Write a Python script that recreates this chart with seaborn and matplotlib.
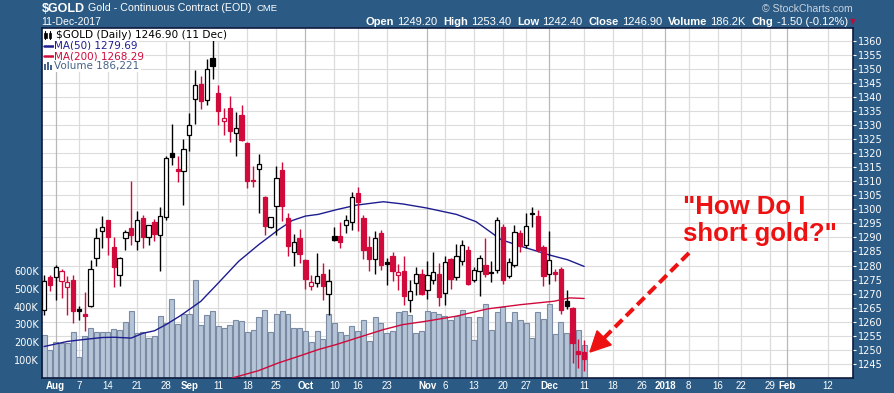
import numpy as np
import pandas as pd
import matplotlib
matplotlib.use("Agg")
import matplotlib.pyplot as plt
from matplotlib.lines import Line2D
from matplotlib.patches import Polygon, Rectangle
import seaborn as sns

# ---------------- data ----------------
first_session = "2017-07-28"
last_axis_session = "2018-02-16"
closed_days = ["2017-09-04", "2017-10-09", "2017-11-23",
               "2017-12-25", "2018-01-01", "2018-01-15"]

opens = [1264.3, 1275.8, 1275.8, 1274.6, 1272.3, 1274.7, 1264.4, 1262.6, 1265.5, 1282.7,
         1292.2, 1296.1, 1286.5, 1276.5, 1289.8, 1293.4, 1288.6, 1296.9, 1290.2, 1295.5,
         1290.8, 1297.2, 1320.0, 1314.2, 1313.5, 1326.6, 1339.4, 1344.6, 1338.8, 1353.9,
         1341.4, 1331.3, 1336.1, 1327.0, 1333.5, 1323.6, 1310.4, 1314.2, 1304.5, 1293.6,
         1301.1, 1313.9, 1296.9, 1284.7, 1289.8, 1282.1, 1272.6, 1273.8, 1277.0, 1270.0,
         1290.4, 1290.4, 1294.3, 1295.4, 1305.8, 1296.9, 1286.6, 1282.3, 1291.6, 1281.2,
         1283.3, 1276.8, 1278.0, 1267.6, 1273.8, 1277.1, 1271.2, 1274.8, 1277.0, 1270.2,
         1282.3, 1275.8, 1281.5, 1285.4, 1274.8, 1278.2, 1280.1, 1277.7, 1278.3, 1293.7,
         1276.2, 1280.1, 1291.6, 1287.4, 1298.7, 1297.5, 1286.6, 1277.1, 1277.4, 1278.8,
         1267.3, 1264.9, 1249.6, 1249.2]
highs = [1276.5, 1276.8, 1280.1, 1278.9, 1276.2, 1276.5, 1265.5, 1270.6, 1282.1, 1293.4,
         1297.5, 1296.3, 1290.0, 1282.9, 1292.5, 1310.0, 1299.5, 1297.9, 1294.5, 1296.6,
         1300.8, 1318.8, 1330.5, 1318.9, 1325.0, 1334.3, 1349.5, 1347.3, 1353.3, 1360.1,
         1344.1, 1336.1, 1340.2, 1334.6, 1337.0, 1323.9, 1315.3, 1319.7, 1304.9, 1297.4,
         1315.3, 1316.7, 1298.7, 1291.2, 1293.0, 1282.5, 1276.8, 1284.5, 1280.9, 1278.9,
         1293.6, 1295.4, 1298.1, 1306.1, 1307.8, 1297.9, 1290.4, 1292.4, 1292.8, 1282.7,
         1284.8, 1280.6, 1283.3, 1274.8, 1279.4, 1278.9, 1281.5, 1284.7, 1280.9, 1283.3,
         1282.7, 1287.7, 1289.2, 1286.8, 1279.5, 1283.9, 1289.8, 1281.5, 1297.2, 1294.8,
         1282.7, 1294.5, 1292.8, 1298.7, 1300.8, 1299.9, 1287.4, 1292.2, 1278.9, 1279.5,
         1271.2, 1265.2, 1254.0, 1253.4]
lows = [1262.5, 1271.1, 1267.9, 1268.5, 1262.5, 1259.6, 1260.8, 1256.6, 1265.4, 1279.7,
        1286.2, 1283.9, 1272.3, 1272.6, 1285.7, 1287.4, 1285.7, 1286.2, 1287.4, 1288.6,
        1278.0, 1296.3, 1315.9, 1309.7, 1301.7, 1320.9, 1330.4, 1335.8, 1337.0, 1346.5,
        1330.1, 1326.3, 1324.0, 1319.1, 1324.4, 1307.6, 1307.9, 1298.7, 1290.8, 1293.4,
        1291.0, 1296.0, 1283.5, 1280.0, 1280.9, 1271.7, 1271.4, 1272.3, 1267.9, 1262.3,
        1288.6, 1286.2, 1291.6, 1292.5, 1292.2, 1282.5, 1278.0, 1277.0, 1278.5, 1273.0,
        1274.6, 1271.4, 1265.9, 1263.4, 1269.7, 1269.7, 1268.2, 1273.6, 1265.5, 1265.9,
        1271.8, 1275.0, 1280.1, 1273.0, 1274.0, 1269.1, 1275.8, 1274.2, 1277.4, 1273.6,
        1275.6, 1279.4, 1284.7, 1286.2, 1293.7, 1284.7, 1272.6, 1273.5, 1274.4, 1262.8,
        1264.7, 1245.3, 1243.6, 1242.4]
closes = [1274.6, 1273.0, 1279.4, 1277.9, 1274.2, 1263.9, 1264.0, 1262.2, 1278.7, 1289.8,
          1293.6, 1290.0, 1279.4, 1282.7, 1291.8, 1291.0, 1296.1, 1290.2, 1294.3, 1291.4,
          1297.5, 1318.3, 1318.5, 1313.5, 1321.6, 1329.9, 1344.1, 1338.7, 1349.8, 1350.9,
          1335.1, 1332.5, 1327.8, 1328.9, 1324.8, 1310.2, 1309.9, 1316.1, 1294.2, 1297.2,
          1311.2, 1301.3, 1287.1, 1288.3, 1284.1, 1275.3, 1274.2, 1276.2, 1272.6, 1274.4,
          1289.2, 1288.3, 1296.1, 1304.3, 1302.5, 1285.7, 1282.5, 1289.8, 1280.1, 1280.6,
          1278.0, 1277.7, 1269.1, 1271.1, 1277.1, 1270.0, 1276.8, 1277.6, 1268.7, 1281.2,
          1275.3, 1283.3, 1287.2, 1273.6, 1278.3, 1282.7, 1277.1, 1277.3, 1296.1, 1274.8,
          1281.2, 1291.8, 1286.9, 1294.0, 1298.4, 1285.7, 1276.2, 1281.9, 1277.1, 1264.3,
          1265.5, 1252.5, 1248.4, 1246.9]
volumes_k = [241, 157, 202, 198, 194, 258, 116, 237, 278, 258,
             258, 258, 276, 269, 314, 374, 250, 258, 222, 235,
             346, 308, 441, 302, 358, 358, 547, 299, 351, 373,
             289, 280, 295, 323, 317, 258, 271, 340, 383, 258,
             358, 373, 360, 280, 280, 261, 202, 263, 218, 358,
             308, 258, 239, 289, 261, 323, 205, 340, 308, 252,
             261, 370, 373, 351, 252, 261, 373, 368, 358, 345,
             323, 345, 383, 340, 211, 340, 414, 267, 368, 396,
             312, 368, 323, 308, 224, 368, 330, 416, 248, 312,
             250, 300, 267, 186.221]

ma50_pos = [0, 4, 6, 10, 12, 15, 17, 19, 21, 23.5, 27, 30, 33.5, 37, 40.4, 42.7, 45, 47.2,
            50.4, 53.8, 58.4, 61.8, 65.8, 71, 74.4, 78.7, 82.2, 87.3, 90.1, 93]
ma50_val = [1251.2, 1253.0, 1253.5, 1254.4, 1254.5, 1254.2, 1255.9, 1256.8, 1259.0, 1262.2,
            1267.3, 1273.8, 1281.5, 1287.5, 1292.8, 1296.0, 1297.6, 1298.2, 1299.9, 1301.5,
            1302.7, 1301.9, 1300.5, 1298.2, 1295.6, 1289.2, 1286.8, 1283.6, 1282.1, 1279.69]
ma200_pos = [31.0, 32.4, 36.9, 40.4, 43.8, 47.2, 50.3, 53.8, 58.4, 61.8, 65.8, 71, 76.4,
             82.1, 87.8, 90.5, 93]
ma200_val = [1238.5, 1240.0, 1242.6, 1245.4, 1247.7, 1250.1, 1251.9, 1254.2, 1257.2, 1259.0,
             1260.2, 1262.0, 1264.6, 1266.1, 1267.3, 1268.5, 1268.29]

tick_dates = ["2017-08-01", "2017-08-07", "2017-08-14", "2017-08-21", "2017-08-28",
              "2017-09-01", "2017-09-11", "2017-09-18", "2017-09-25", "2017-10-02",
              "2017-10-10", "2017-10-16", "2017-10-23", "2017-11-01", "2017-11-06",
              "2017-11-13", "2017-11-20", "2017-11-27", "2017-12-01", "2017-12-11",
              "2017-12-18", "2017-12-26", "2018-01-02", "2018-01-08", "2018-01-16",
              "2018-01-22", "2018-01-29", "2018-02-01", "2018-02-12"]
tick_labels = ["Aug", "7", "14", "21", "28", "Sep", "11", "18", "25", "Oct", "10", "16", "23",
               "Nov", "6", "13", "20", "27", "Dec", "11", "18", "26", "2018", "8", "16", "22",
               "29", "Feb", "12"]
major_labels = ["Aug", "Sep", "Oct", "Nov", "Dec", "2018", "Feb"]
price_ticks = list(range(1245, 1361, 5))
volume_ticks_k = [100, 200, 300, 400, 500, 600]

header_quote = [("Open", "1249.20"), ("High", "1253.40"), ("Low", "1242.40"),
                ("Close", "1246.90"), ("Volume", "186.2K"), ("Chg", "-1.50 (-0.12%)")]

# ---------------- styles ----------------
BG = "#2b5b84"
RED = "#d10a3c"
NAVY = "#1d1d90"
VOLBLUE = "#46648c"
SANS = "Liberation Sans"

sns.set_style("white")
plt.rcParams["font.family"] = ["DejaVu Sans"]

W, H = 894, 393
fig = plt.figure(figsize=(W / 100, H / 100), dpi=100, facecolor=BG)


def fx(px):
    return px / W


def fy(py):
    return 1 - py / H


L, R, T, B = 41.5, 853, 28, 378
ax_vol = fig.add_axes([fx(L), fy(B), (R - L) / W, (B - T) / H])
ax_vol.set_facecolor("white")
ax_pr = ax_vol.twinx()

P_LO, P_HI = 1240.0, 1364.5
V_HI = 1961e3
X_LO, X_HI = -0.45, 139.3

sessions = pd.bdate_range(first_session, last_axis_session)
sessions = sessions[~sessions.isin(pd.to_datetime(closed_days))]
session_pos = pd.Series(np.arange(len(sessions)), index=sessions)
tick_pos = [int(session_pos[pd.Timestamp(d)]) for d in tick_dates]

n = len(closes)
x = np.arange(n)

# grid (behind volume)
for p in price_ticks:
    ax_vol.axhline((p - P_LO) / (P_HI - P_LO) * V_HI, color="#dcdcdc", lw=0.8, zorder=0)
for pos, lab in zip(tick_pos, tick_labels):
    ax_vol.axvline(pos, color="#b8b8b8" if lab in major_labels else "#dcdcdc", lw=0.9, zorder=0)

# volume bars
vol_df = pd.DataFrame({"pos": x, "volume": np.array(volumes_k) * 1000})
sns.barplot(data=vol_df, x="pos", y="volume", native_scale=True, width=0.86,
            color="#b5c4d6", saturation=1, edgecolor="#7a8ba3", linewidth=0.8,
            errorbar=None, ax=ax_vol, zorder=1)

# moving averages
sns.lineplot(x=ma50_pos, y=ma50_val, color=NAVY, lw=1.0, ax=ax_pr, zorder=2)
sns.lineplot(x=ma200_pos, y=ma200_val, color=RED, lw=1.0, ax=ax_pr, zorder=2)

# candlesticks
o = np.array(opens); c = np.array(closes); h = np.array(highs); lo = np.array(lows)
prev = np.r_[o[0], c[:-1]]
col = np.where(c >= prev, "black", RED)
hollow = c > o
ax_pr.vlines(x, lo, h, colors=col, lw=1.0, zorder=3)
body_bottom = np.minimum(o, c)
body_h = np.maximum(np.abs(c - o), 0.45)
face = np.where(hollow, "white", col)
ax_pr.bar(x, body_h, bottom=body_bottom, width=0.74, color=face, edgecolor=col,
          linewidth=0.9, zorder=4)

# limits / ticks
ax_vol.set_xlim(X_LO, X_HI)
ax_vol.set_ylim(0, V_HI)
ax_pr.set_ylim(P_LO, P_HI)
ax_vol.set_xlabel(""); ax_vol.set_ylabel(""); ax_pr.set_ylabel(""); ax_pr.set_xlabel("")

ax_vol.set_yticks([v * 1000 for v in volume_ticks_k])
ax_vol.set_yticklabels([f"{v}K" for v in volume_ticks_k])
ax_vol.tick_params(axis="y", length=0, pad=2, labelcolor="white", labelsize=7)
ax_pr.set_yticks(price_ticks)
ax_pr.set_yticklabels([str(p) for p in price_ticks])
ax_pr.tick_params(axis="y", direction="out", length=2.5, width=0.8, color="white",
                  pad=1, labelcolor="white", labelsize=7)
ax_vol.set_xticks(tick_pos)
ax_vol.set_xticklabels(tick_labels)
for t, lab in zip(ax_vol.get_xticklabels(), tick_labels):
    t.set_fontweight("bold" if lab in major_labels else "normal")
    t.set_family(SANS)
ax_vol.tick_params(axis="x", length=0, pad=2.5, labelcolor="white", labelsize=7)

for sp in ax_vol.spines.values():
    sp.set_color("#0d1b3e"); sp.set_linewidth(1.2); sp.set_visible(True)
for sp in ax_pr.spines.values():
    sp.set_visible(False)
ax_vol.grid(False); ax_pr.grid(False)

# ---------------- header ----------------
fig.text(fx(41.5), fy(11.7), "$GOLD", color="white", fontsize=9, fontweight="bold",
         family=SANS, va="baseline")
t_name = fig.text(fx(87.7), fy(11.3), "Gold - Continuous Contract (EOD)", color="white",
                  fontsize=7.7, family=SANS, va="baseline")
ax_vol.annotate("CME", xy=(1, 0), xycoords=t_name, xytext=(3.5, 0), textcoords="offset points",
                color="white", fontsize=6.8, family=SANS, va="bottom", ha="left",
                annotation_clip=False)
fig.text(fx(41.5), fy(25), "11-Dec-2017", color="white", fontsize=7.5, family=SANS,
         va="baseline")
fig.text(fx(853), fy(11.7), "\u00a9 StockCharts.com", color="#c8d2de", fontsize=7.6,
         family=SANS, va="baseline", ha="right")

prev_t = None
for k, (lab, val) in enumerate(header_quote):
    if prev_t is None:
        prev_t = fig.text(fx(365), fy(25), lab, color="white", fontsize=8, fontweight="bold",
                          family=SANS, va="baseline")
    else:
        prev_t = ax_vol.annotate(lab, xy=(1, 0), xycoords=prev_t, xytext=(4.3, 0),
                                 textcoords="offset points", color="white", fontsize=8,
                                 fontweight="bold", family=SANS, va="bottom", ha="left",
                                 annotation_clip=False)
    prev_t = ax_vol.annotate(val, xy=(1, 0), xycoords=prev_t, xytext=(2.3, 0),
                             textcoords="offset points", color="white", fontsize=8,
                             family=SANS, va="bottom", ha="left", annotation_clip=False)
ax_vol.annotate("\u25bc", xy=(1, 0), xycoords=prev_t, xytext=(1.5, 0.5),
                textcoords="offset points", color="#b3123e", fontsize=5.5,
                va="bottom", ha="left", annotation_clip=False)

# ---------------- in-chart legend ----------------
leg_bbox = dict(facecolor="white", edgecolor="none", pad=0.6)
fig.text(fx(56), fy(35), "$GOLD (Daily) 1246.90 (11 Dec)", color="black", fontsize=7.6,
         va="center", bbox=leg_bbox)
fig.text(fx(54.5), fy(45.5), "MA(50) 1279.69", color=NAVY, fontsize=7.5, va="center",
         bbox=leg_bbox)
fig.text(fx(54.5), fy(56.3), "MA(200) 1268.29", color=RED, fontsize=7.5, va="center",
         bbox=leg_bbox)
fig.text(fx(54.5), fy(66.5), "Volume 186,221", color=VOLBLUE, fontsize=7.5, va="center",
         bbox=leg_bbox)
fig.add_artist(Rectangle((fx(42.5), fy(40)), (54 - 42.5) / W, 11.5 / H,
                         transform=fig.transFigure, facecolor="white", edgecolor="none"))
fig.add_artist(Rectangle((fx(42.5), fy(71)), (54 - 42.5) / W, 31 / H,
                         transform=fig.transFigure, facecolor="white", edgecolor="none"))
# candle icon
for cx in (45.2, 49.8):
    fig.add_artist(Line2D([fx(cx), fx(cx)], [fy(39), fy(31)], transform=fig.transFigure,
                          color="black", lw=0.8))
    fig.add_artist(Rectangle((fx(cx - 1.3), fy(37.5)), 2.6 / W, 4.5 / H,
                             transform=fig.transFigure, facecolor="black", edgecolor="black",
                             lw=0.5))
fig.add_artist(Line2D([fx(43.5), fx(53)], [fy(45.5), fy(45.5)], transform=fig.transFigure,
                      color=NAVY, lw=1.8))
fig.add_artist(Line2D([fx(43.5), fx(53)], [fy(56.3), fy(56.3)], transform=fig.transFigure,
                      color=RED, lw=1.8))
for bx, bh in ((43.5, 6), (46.5, 8), (49.5, 5)):
    fig.add_artist(Rectangle((fx(bx), fy(70)), 2.2 / W, bh / H, transform=fig.transFigure,
                             facecolor=VOLBLUE, edgecolor="none"))

# ---------------- annotation ----------------
ANN = "#ee1111"
fig.text(fx(683), fy(240.5), "\"How Do I\nshort gold?\"", color=ANN, fontsize=18.5,
         fontweight="bold", family=SANS, va="baseline", ha="left", linespacing=1.13,
         multialignment="left")
tail = (689, 253)
tip = (590, 352)
u = np.array([tip[0] - tail[0], tip[1] - tail[1]], dtype=float)
u /= np.hypot(*u)
perp = np.array([-u[1], u[0]])
head_len, head_half = 20, 10
base = np.array(tip) - head_len * u
fig.add_artist(Line2D([fx(tail[0]), fx(base[0] + 2 * u[0])], [fy(tail[1]), fy(base[1] + 2 * u[1])],
                      transform=fig.transFigure, color=ANN, lw=2.9,
                      linestyle=(0, (2.6, 1.3)), solid_capstyle="butt", dash_capstyle="butt"))
p1 = base + head_half * perp
p2 = base - head_half * perp
fig.add_artist(Polygon([[fx(tip[0]), fy(tip[1])], [fx(p1[0]), fy(p1[1])], [fx(p2[0]), fy(p2[1])]],
                       closed=True, transform=fig.transFigure, facecolor=ANN, edgecolor=ANN))

fig.savefig("out.png", dpi=100, facecolor=BG)
